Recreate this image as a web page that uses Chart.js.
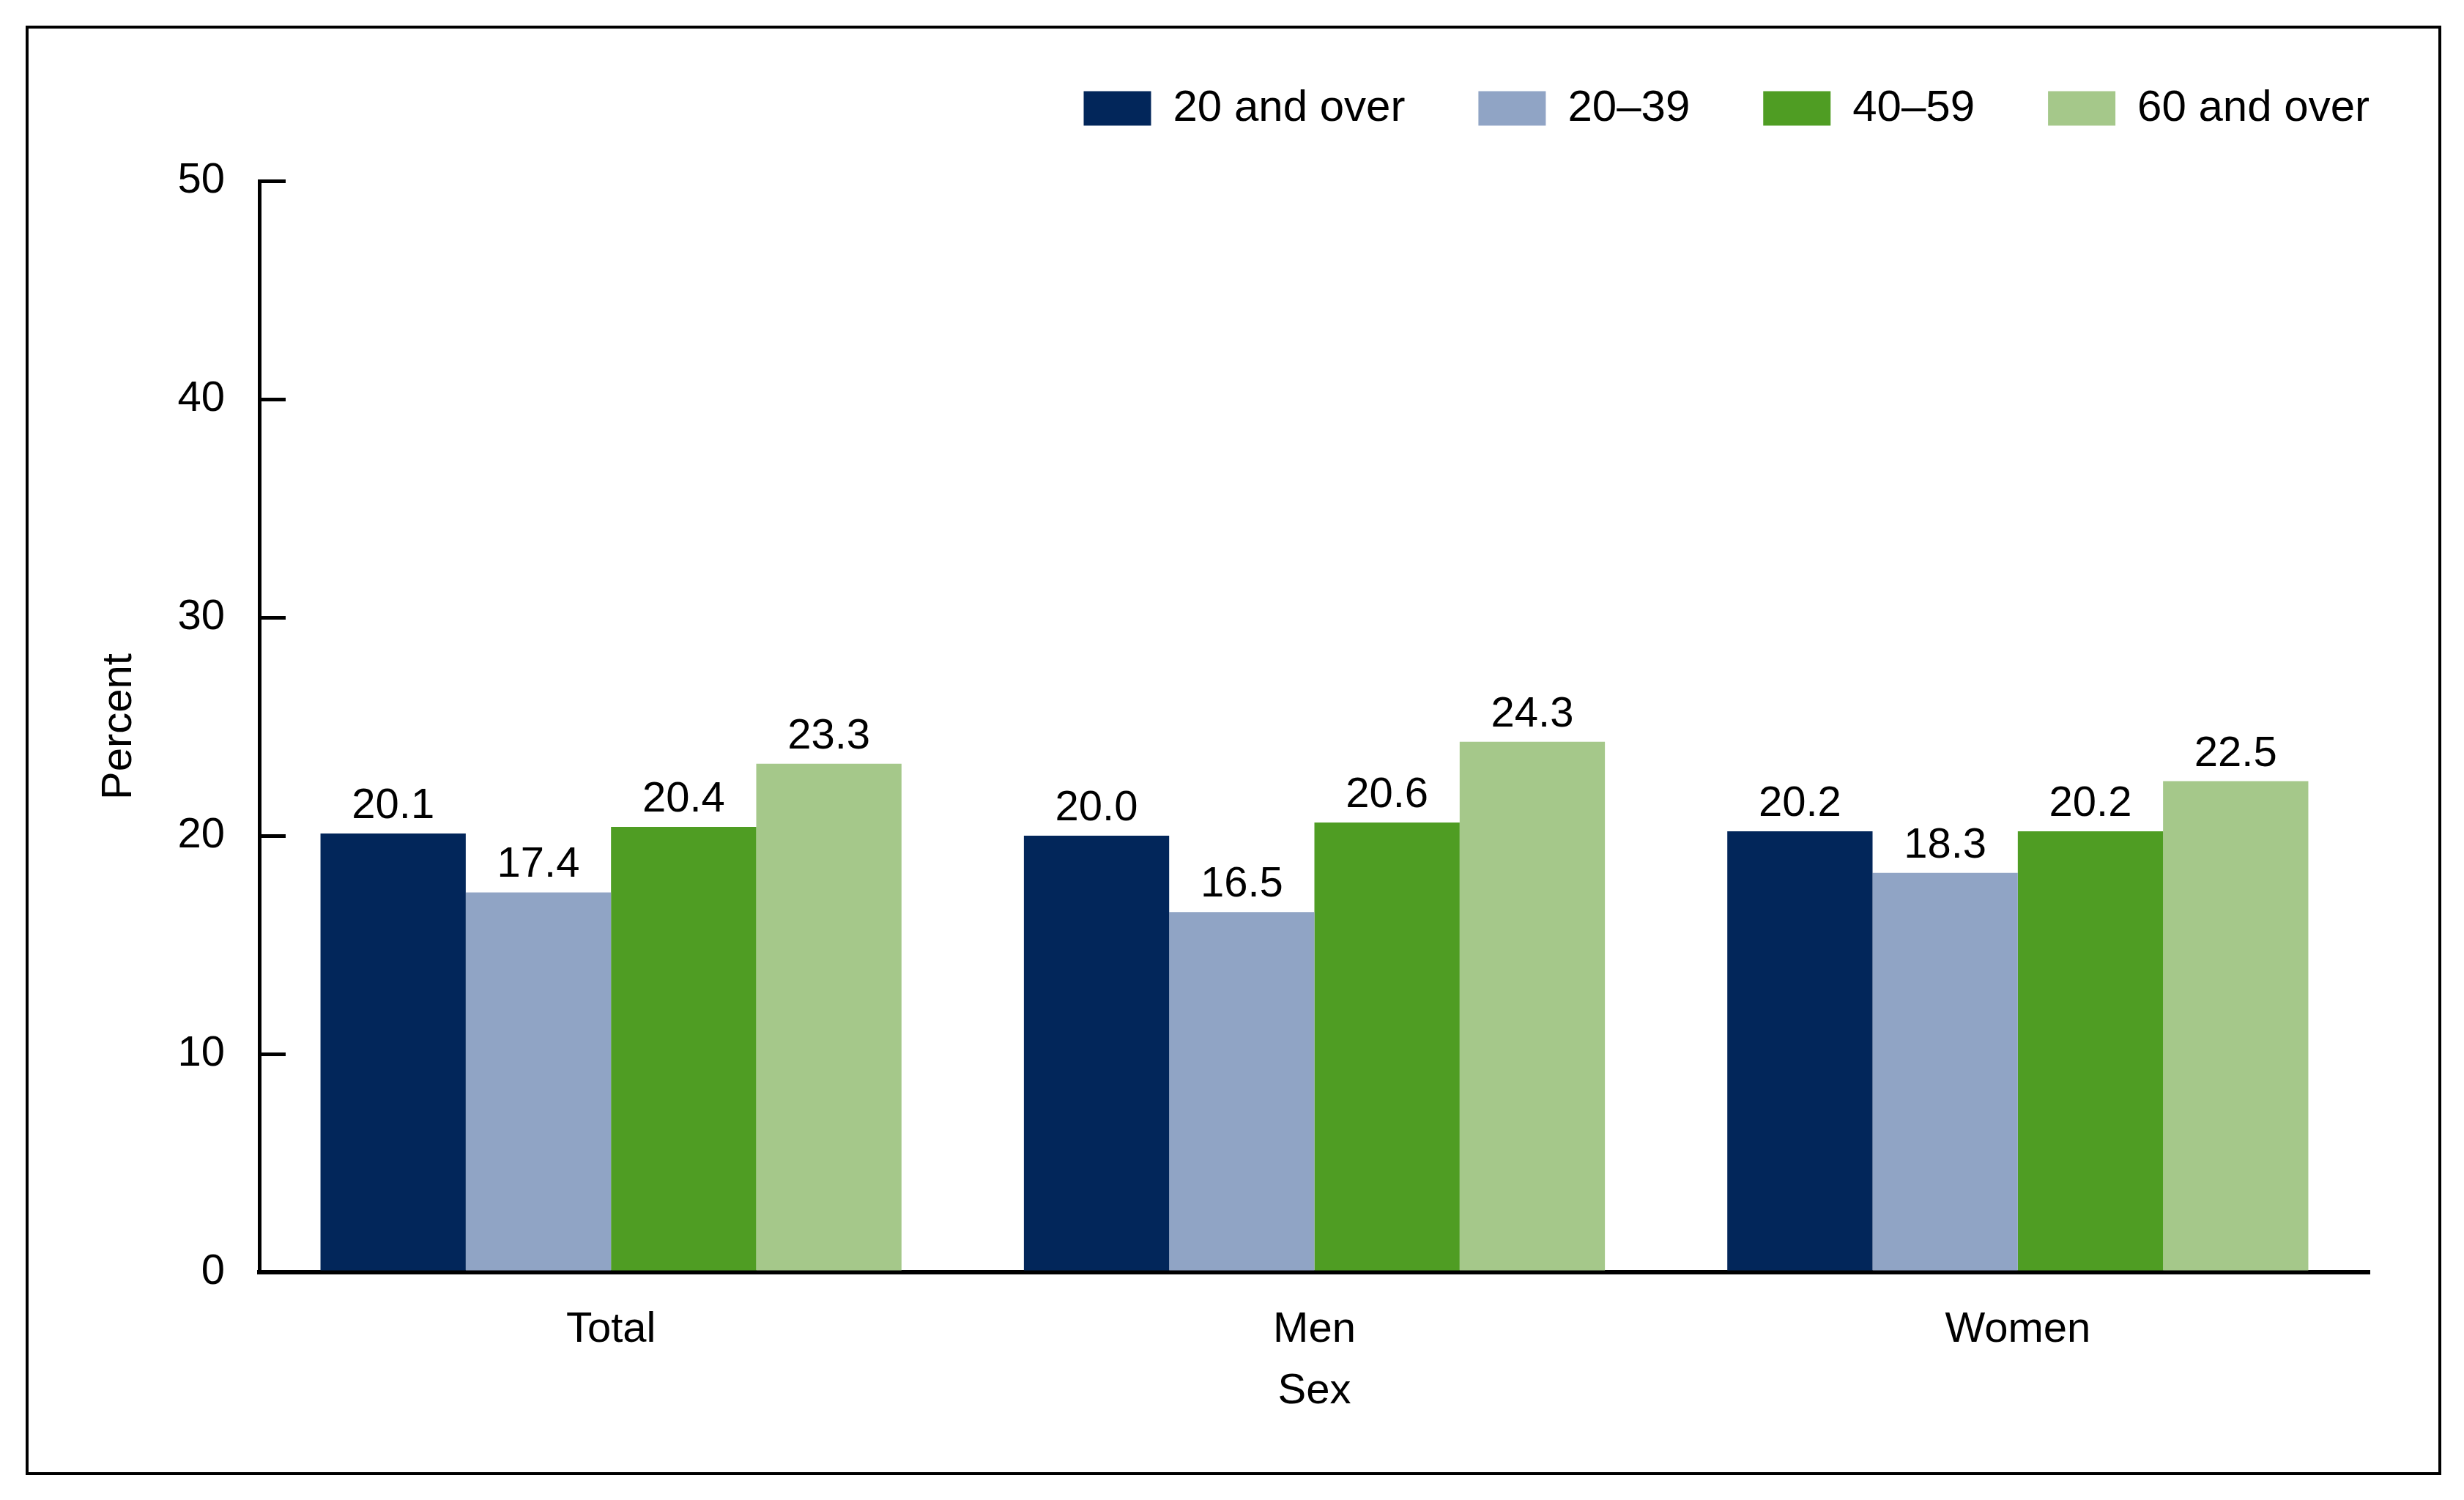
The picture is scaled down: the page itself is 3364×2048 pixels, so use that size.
<!DOCTYPE html>
<html>
<head>
<meta charset="utf-8">
<script src="https://cdn.jsdelivr.net/npm/chart.js@4.4.1/dist/chart.umd.min.js"></script>
<style>
  html, body { margin: 0; padding: 0; background: #fff; }
  #wrap { position: relative; width: 3364px; height: 2048px; }
</style>
</head>
<body>
<div id="wrap"><canvas id="barChart"></canvas></div>
<script>
// data
var categories = ['Total', 'Men', 'Women'];
var seriesNames = ['20 and over', '20\u201339', '40\u201359', '60 and over'];
var age20over = [20.1, 20.0, 20.2];
var age20to39 = [17.4, 16.5, 18.3];
var age40to59 = [20.4, 20.6, 20.2];
var age60over = [23.3, 24.3, 22.5];
var yTicks = [0, 10, 20, 30, 40, 50];

var colors = ['#02265A', '#90A4C5', '#4F9D23', '#A5C88A'];
var FONT = "'Liberation Sans', Arial, sans-serif";
var LEGEND_PAD = 100;

// frame round the whole figure
var framePlugin = {
  id: 'frame',
  beforeDraw: function(chart) {
    var ctx = chart.ctx;
    ctx.save();
    ctx.strokeStyle = '#000';
    ctx.lineWidth = 4;
    ctx.strokeRect(37, 37, 3294, 1975);
    ctx.restore();
  }
};

// value labels above the bars
var valueLabels = {
  id: 'valueLabels',
  afterDatasetsDraw: function(chart) {
    var ctx = chart.ctx;
    ctx.save();
    ctx.font = '58px ' + FONT;
    ctx.fillStyle = '#000';
    ctx.textAlign = 'center';
    ctx.textBaseline = 'alphabetic';
    chart.data.datasets.forEach(function(ds, i) {
      var meta = chart.getDatasetMeta(i);
      meta.data.forEach(function(bar, j) {
        ctx.fillText(ds.data[j].toFixed(1), bar.x, bar.y - 21);
      });
    });
    ctx.restore();
  }
};

// extra room under the legend, and push it right so the last item ends on the axis end
var legendSpace = {
  id: 'legendSpace',
  beforeInit: function(chart) {
    var origFit = chart.legend.fit;
    chart.legend.fit = function() {
      origFit.bind(chart.legend)();
      this.height += 59;
    };
  },
  afterLayout: function(chart) {
    chart.legend.left += LEGEND_PAD;
    chart.legend.right += LEGEND_PAD;
  }
};

var barChartCanvas = document.getElementById('barChart').getContext('2d');
var barChart = new Chart(barChartCanvas, {
  type: 'bar',
  data: {
    labels: categories,
    datasets: [
      { label: seriesNames[0], data: age20over, backgroundColor: colors[0] },
      { label: seriesNames[1], data: age20to39, backgroundColor: colors[1] },
      { label: seriesNames[2], data: age40to59, backgroundColor: colors[2] },
      { label: seriesNames[3], data: age60over, backgroundColor: colors[3] }
    ]
  },
  options: {
    responsive: true,
    maintainAspectRatio: false,
    animation: false,
    datasets: { bar: { barPercentage: 1.0, categoryPercentage: 0.826, borderWidth: 0 } },
    layout: { padding: { left: 0, right: 129, top: 18, bottom: 113 } },
    plugins: {
      tooltip: { enabled: false },
      legend: {
        position: 'top',
        align: 'end',
        labels: {
          boxWidth: 92,
          boxHeight: 47,
          padding: LEGEND_PAD,
          color: '#000',
          font: { family: FONT, size: 60 }
        }
      }
    },
    scales: {
      x: {
        grid: { display: false, drawTicks: false },
        border: { display: true, color: '#000', width: 6 },
        ticks: { color: '#000', padding: 44, font: { family: FONT, size: 58 } },
        title: { display: true, text: 'Sex', color: '#000', padding: 0, font: { family: FONT, size: 58 } },
        afterFit: function(scale) { scale.height = 198; }
      },
      y: {
        min: 0,
        max: 50,
        afterBuildTicks: function(scale) {
          scale.ticks = yTicks.map(function(v) { return { value: v }; });
        },
        grid: { display: true, drawOnChartArea: false, drawTicks: true, tickLength: -36, color: '#000', lineWidth: 5 },
        border: { display: true, color: '#000', width: 5 },
        ticks: { color: '#000', padding: 83, font: { family: FONT, size: 58 } },
        title: { display: true, text: 'Percent', color: '#000', padding: { top: 128, bottom: 0 }, font: { family: FONT, size: 58 } },
        afterFit: function(scale) { scale.width = 354; }
      }
    }
  },
  plugins: [framePlugin, valueLabels, legendSpace]
});
</script>
</body>
</html>
